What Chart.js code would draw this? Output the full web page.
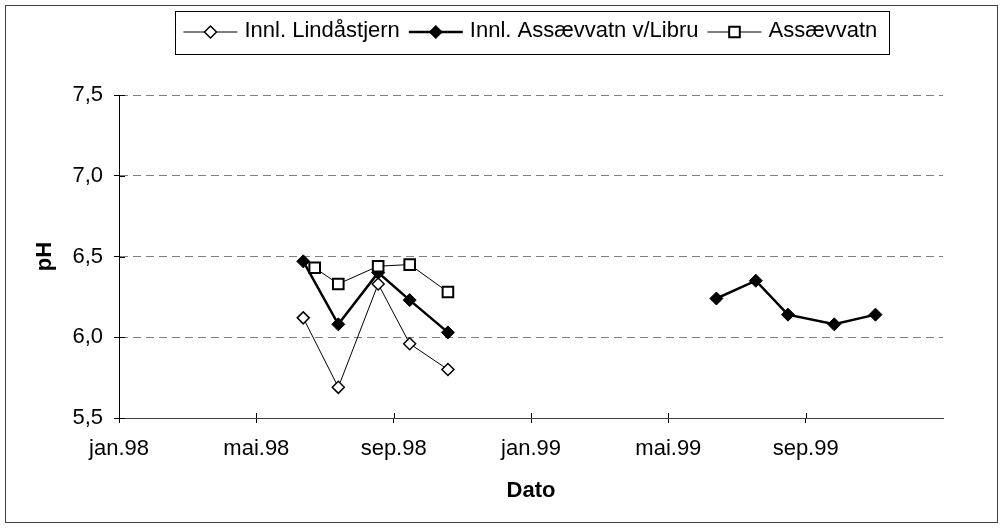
<!DOCTYPE html>
<html>
<head>
<meta charset="utf-8">
<script src="https://cdn.jsdelivr.net/npm/chart.js@4.4.0/dist/chart.umd.min.js"></script>
<style>
  html, body { margin: 0; padding: 0; background: #fff; }
  canvas { display: block; }
</style>
</head>
<body>
<canvas id="ph-chart" width="1003" height="529"></canvas>
<script>
// sampling dates and pH
const lindasDates = ['1998-06-12', '1998-07-13', '1998-08-18', '1998-09-15', '1998-10-19'];
const lindasPH = [6.12, 5.69, 6.33, 5.96, 5.80];

// null = no sample over the winter, breaks the line
const libruDates = ['1998-06-12', '1998-07-13', '1998-08-18', '1998-09-15', '1998-10-19',
  '1999-02-01',
  '1999-06-13', '1999-07-18', '1999-08-16', '1999-09-26', '1999-11-02'];
const libruPH = [6.47, 6.08, 6.40, 6.23, 6.03, null, 6.24, 6.35, 6.14, 6.08, 6.14];

const assaevDates = ['1998-06-22', '1998-07-13', '1998-08-18', '1998-09-15', '1998-10-19'];
const assaevPH = [6.43, 6.33, 6.44, 6.45, 6.28];

const seriesNames = ['Innl. Lindåstjern', 'Innl. Assævvatn v/Libru', 'Assævvatn'];

// x axis counts months from jan.98
const xTickMonths = [0, 4, 8, 12, 16, 20];
const xTickLabels = ['jan.98', 'mai.98', 'sep.98', 'jan.99', 'mai.99', 'sep.99'];

const FONT = '"Liberation Sans", Arial, sans-serif';

function monthIndex(iso) {
  const [y, m, d] = iso.split('-').map(Number);
  const days = new Date(y, m, 0).getDate();
  return (y - 1998) * 12 + (m - 1) + (d - 1) / days;
}

function toPoints(dates, values) {
  return dates.map((d, i) => ({ x: monthIndex(d), y: values[i] }));
}

function marker(ctx, style, r, x, y) {
  ctx.beginPath();
  if (style === 'rectRot') {
    ctx.moveTo(x - r, y); ctx.lineTo(x, y - r); ctx.lineTo(x + r, y); ctx.lineTo(x, y + r);
  } else {
    const s = r * Math.SQRT1_2;
    ctx.rect(x - s, y - s, 2 * s, 2 * s);
  }
  ctx.closePath();
  ctx.fill();
  ctx.stroke();
}

// outer frame of the chart
const framePlugin = {
  id: 'frame',
  beforeDraw(chart) {
    const ctx = chart.ctx;
    ctx.save();
    ctx.fillStyle = '#fff';
    ctx.fillRect(0, 0, chart.width, chart.height);
    ctx.strokeStyle = '#404040';
    ctx.lineWidth = 1;
    ctx.strokeRect(5.5, 5.5, 992, 517);
    ctx.restore();
  }
};

// Excel style ticks that cross the axis: add the inner half
const crossTicks = {
  id: 'crossTicks',
  beforeDatasetsDraw(chart) {
    const { ctx, scales: { x, y } } = chart;
    ctx.save();
    ctx.strokeStyle = '#000';
    ctx.lineWidth = 1;
    ctx.beginPath();
    x.ticks.forEach(t => {
      const px = Math.round(x.getPixelForValue(t.value)) + 0.5;
      ctx.moveTo(px, y.bottom); ctx.lineTo(px, y.bottom - 5);
    });
    y.ticks.forEach(t => {
      const py = Math.round(y.getPixelForValue(t.value)) + 0.5;
      ctx.moveTo(x.left, py); ctx.lineTo(x.left + 6, py);
    });
    ctx.stroke();
    ctx.restore();
  }
};

// boxed legend with line + marker icons
const boxLegend = {
  id: 'boxLegend',
  afterDraw(chart) {
    const ctx = chart.ctx;
    const sets = chart.data.datasets;
    const lineLen = 54, gapText = 7, gapItem = 9, padL = 8, padR = 12;
    ctx.save();
    ctx.font = '22px ' + FONT;
    const widths = sets.map(ds => ctx.measureText(ds.label).width);
    const content = widths.reduce((a, w) => a + lineLen + gapText + w, 0) + gapItem * (sets.length - 1);
    const boxW = Math.round(padL + content + padR);
    const boxX = Math.round(532 - boxW / 2) + 0.5;
    ctx.strokeStyle = '#000';
    ctx.lineWidth = 1;
    ctx.strokeRect(boxX, 11.5, boxW, 43);
    const cy = 32;
    let x = boxX + padL;
    sets.forEach((ds, i) => {
      ctx.strokeStyle = '#000';
      ctx.lineWidth = ds.borderWidth;
      ctx.beginPath();
      ctx.moveTo(x, cy); ctx.lineTo(x + lineLen, cy);
      ctx.stroke();
      ctx.fillStyle = ds.pointBackgroundColor;
      ctx.lineWidth = ds.pointBorderWidth;
      marker(ctx, ds.pointStyle, ds.pointRadius, x + lineLen / 2, cy);
      ctx.fillStyle = '#000';
      ctx.textAlign = 'left';
      ctx.textBaseline = 'middle';
      ctx.fillText(ds.label, x + lineLen + gapText, cy - 1);
      x += lineLen + gapText + widths[i] + gapItem;
    });
    ctx.restore();
  }
};

new Chart(document.getElementById('ph-chart'), {
  type: 'line',
  data: {
    datasets: [
      {
        label: seriesNames[0],
        data: toPoints(lindasDates, lindasPH),
        borderColor: '#000',
        borderWidth: 1,
        pointStyle: 'rectRot',
        pointRadius: 6,
        pointBackgroundColor: '#fff',
        pointBorderColor: '#000',
        pointBorderWidth: 1.5,
        order: 3
      },
      {
        label: seriesNames[1],
        data: toPoints(libruDates, libruPH),
        borderColor: '#000',
        borderWidth: 2.5,
        pointStyle: 'rectRot',
        pointRadius: 6.5,
        pointBackgroundColor: '#000',
        pointBorderColor: '#000',
        pointBorderWidth: 1,
        spanGaps: false,
        order: 2
      },
      {
        label: seriesNames[2],
        data: toPoints(assaevDates, assaevPH),
        borderColor: '#000',
        borderWidth: 1,
        pointStyle: 'rect',
        pointRadius: 7.5,
        pointBackgroundColor: '#fff',
        pointBorderColor: '#000',
        pointBorderWidth: 2,
        order: 1
      }
    ]
  },
  options: {
    responsive: false,
    animation: false,
    events: [],
    layout: { padding: { top: 95, right: 60, bottom: 0, left: 0 } },
    plugins: {
      legend: { display: false },
      tooltip: { enabled: false }
    },
    scales: {
      x: {
        type: 'linear',
        min: 0,
        max: 24,
        afterBuildTicks: scale => {
          scale.ticks = xTickMonths.map(v => ({ value: v }));
        },
        afterFit: scale => { scale.height = 111; },
        ticks: {
          autoSkip: false,
          maxRotation: 0,
          color: '#000',
          font: { family: FONT, size: 22 },
          padding: 13,
          callback: v => xTickLabels[xTickMonths.indexOf(v)]
        },
        grid: { drawOnChartArea: false, tickLength: 5, color: '#000', tickColor: '#000' },
        border: { color: '#404040', width: 1 },
        title: {
          display: true,
          text: 'Dato',
          color: '#000',
          font: { family: FONT, size: 22, weight: 'bold' },
          padding: { top: 0, bottom: 25 }
        }
      },
      y: {
        min: 5.5,
        max: 7.5,
        afterFit: scale => { scale.width = 119; },
        ticks: {
          stepSize: 0.5,
          color: '#000',
          font: { family: FONT, size: 22 },
          padding: 11,
          callback: v => v.toFixed(1).replace('.', ',')
        },
        grid: {
          tickLength: 5,
          color: c => (c.tick && c.tick.value > 5.5 ? '#808080' : 'rgba(0,0,0,0)'),
          tickColor: '#000'
        },
        border: { color: '#000', width: 1, dash: [8, 5] },
        title: {
          display: true,
          text: 'pH',
          color: '#000',
          font: { family: FONT, size: 22, weight: 'bold' },
          padding: { top: 32, bottom: 0 }
        }
      }
    }
  },
  plugins: [framePlugin, crossTicks, boxLegend]
});
</script>
</body>
</html>
